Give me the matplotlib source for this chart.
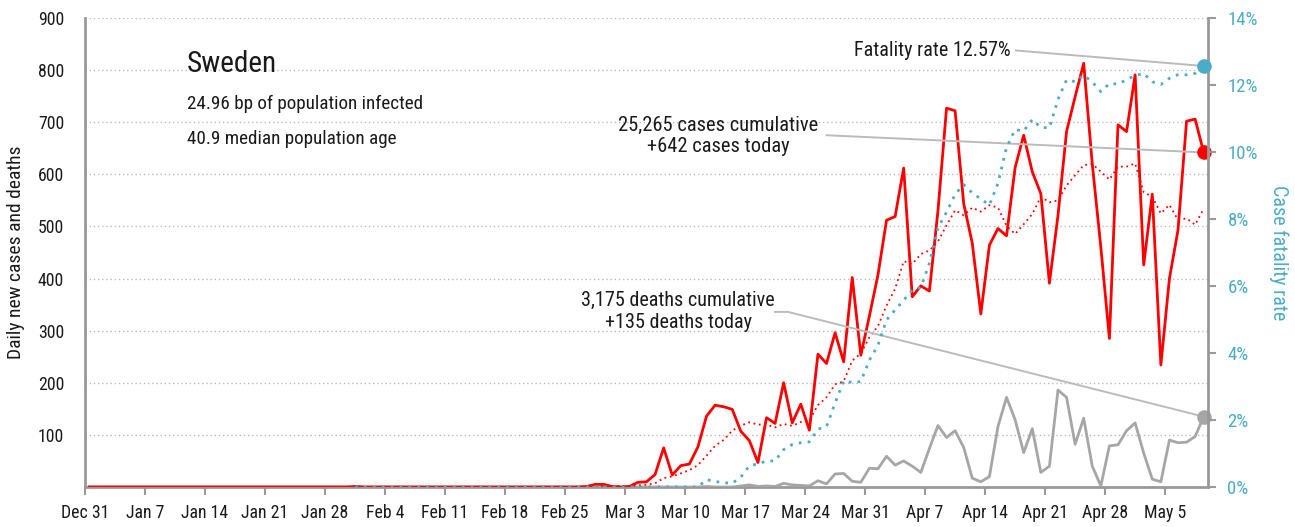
import matplotlib
matplotlib.use("Agg")
import matplotlib.pyplot as plt
from matplotlib import font_manager
import numpy as np
import pandas as pd

# ---------------- data ----------------
# day 0 = Dec 31; one value per day through May 9 (day 130)
cases = ([0] * 31 + [1] + [0] * 26 +
         [1, 5, 5, 1, 0, 1, 9, 10, 24, 75,
          23, 41, 44, 77, 136, 157, 154, 149, 107, 89,
          47, 133, 122, 200, 123, 159, 109, 255, 237, 296,
          240, 402, 253, 328, 407, 512, 519, 612, 365, 386,
          376, 530, 727, 722, 544, 468, 332, 464, 496, 482,
          613, 675, 605, 563, 391, 521, 682, 749, 813, 620,
          460, 285, 695, 682, 791, 426, 562, 234, 400, 493,
          702, 706, 642])
deaths = ([0] * 72 +
          [1, 0, 0, 0, 2, 4, 1, 2, 1, 7,
           4, 3, 2, 12, 6, 25, 26, 11, 9, 36,
           35, 59, 42, 50, 40, 28, 74, 118, 95, 108,
           76, 17, 10, 20, 116, 172, 129, 66, 112, 28,
           40, 186, 172, 82, 132, 40, 2, 79, 81, 108,
           123, 65, 15, 10, 90, 85, 86, 97, 135])
tick_labels = ["Dec 31", "Jan 7", "Jan 14", "Jan 21", "Jan 28", "Feb 4", "Feb 11",
               "Feb 18", "Feb 25", "Mar 3", "Mar 10", "Mar 17", "Mar 24", "Mar 31",
               "Apr 7", "Apr 14", "Apr 21", "Apr 28", "May 5"]
country = "Sweden"
subtitle1 = "24.96 bp of population infected"
subtitle2 = "40.9 median population age"

# ---------------- derived ----------------
cases_s = pd.Series(cases, dtype=float)
deaths_s = pd.Series(deaths, dtype=float)
avg7 = cases_s.rolling(7).mean()
cum_cases = cases_s.cumsum()
cum_deaths = deaths_s.cumsum()
cfr = (cum_deaths / cum_cases.where(cum_cases > 0)) * 100
days = np.arange(len(cases)) + 0.5

# ---------------- fonts ----------------
avail = {f.name for f in font_manager.fontManager.ttflist}
fam = None
for cand in ["Liberation Sans Narrow", "Roboto Condensed", "DejaVu Sans Condensed",
             "Open Sans Condensed", "Liberation Sans", "DejaVu Sans"]:
    if cand in avail:
        fam = cand
        break
plt.rcParams['font.family'] = [fam, 'DejaVu Sans']

RED = "#FF0000"
GRAY = "#A6A6A6"
BLUE = "#4BACC6"
AX = "#999999"
TXT = "#1a1a1a"

fig = plt.figure(figsize=(12.95, 5.27), dpi=100)
ax = fig.add_axes([85 / 1295, 40 / 527, (1208 - 85) / 1295, (487 - 18) / 527])
ax2 = ax.twinx()

ax.set_xlim(0, 131)
ax.set_ylim(0, 900)
ax2.set_ylim(0, 14)

# grid
for v in range(100, 901, 100):
    ax.axhline(v, color="#BBBBBB", lw=1.0, ls=(0, (1, 2)), zorder=0)

ax.plot(days, deaths, color=GRAY, lw=2.0, zorder=3)
ax.plot(days, avg7, color=RED, lw=1.3, ls=(0, (1, 2)), zorder=4)
ax.plot(days, cases, color=RED, lw=2.0, zorder=5)
ax2.plot(days, cfr, color=BLUE, lw=2.0, ls=(0, (1, 2.2)), zorder=4)

# end dots
ax.scatter([days[-1]], [cases[-1]], s=90, color=RED, zorder=7, clip_on=False)
ax.scatter([days[-1]], [deaths[-1]], s=90, color=GRAY, zorder=7, clip_on=False)
ax2.scatter([days[-1]], [cfr.iloc[-1]], s=90, color=BLUE, zorder=7, clip_on=False)

# annotations
n_cases = int(cum_cases.iloc[-1])
n_deaths = int(cum_deaths.iloc[-1])
ax.plot([86.5, days[-1]], [675, cases[-1]], color="#BBBBBB", lw=1.4, zorder=6)
ax.text(73.9, 673, f"{n_cases:,} cases cumulative\n+{cases[-1]} cases today",
        ha="center", va="center", fontsize=14.8, color=TXT, linespacing=1.15, zorder=8)
ax.plot([80.5, 82.0, days[-1]], [336, 336, deaths[-1]], color="#BBBBBB", lw=1.4, zorder=6)
ax.text(69.2, 337, f"{n_deaths:,} deaths cumulative\n+{deaths[-1]} deaths today",
        ha="center", va="center", fontsize=14.5, color=TXT, linespacing=1.15, zorder=8)
ax2.plot([108.6, days[-1]], [13.03, cfr.iloc[-1]], color="#BBBBBB", lw=1.4, zorder=6)
ax2.text(108.0, 13.03, f"Fatality rate {cfr.iloc[-1]:.2f}%", ha="right", va="center",
         fontsize=14.5, color=TXT, zorder=8)

ax.text(11.9, 812, country, fontsize=21, color=TXT, ha="left", va="center")
ax.text(11.9, 736, subtitle1, fontsize=13.8, color=TXT, ha="left", va="center")
ax.text(11.9, 668, subtitle2, fontsize=13.8, color=TXT, ha="left", va="center")

# axes styling
for a in (ax, ax2):
    a.spines["top"].set_visible(False)
    for s in ("left", "right", "bottom"):
        a.spines[s].set_color(AX)
        a.spines[s].set_linewidth(2)
ax.spines["right"].set_visible(False)
ax2.spines["left"].set_visible(False)
ax2.spines["bottom"].set_visible(False)

ax.set_xticks(np.arange(len(tick_labels)) * 7)
ax.set_xticklabels(tick_labels, fontsize=12.8, color=TXT)
ax.tick_params(axis="x", length=6, width=1.5, color=AX, pad=6)
ax.set_yticks(range(100, 901, 100))
ax.set_yticklabels([str(v) for v in range(100, 901, 100)], fontsize=12.8, color=TXT)
ax.tick_params(axis="y", length=0, pad=15)
ax2.set_yticks(range(0, 15, 2))
ax2.set_yticklabels([f"{v}%" for v in range(0, 15, 2)], fontsize=13.5, color=BLUE)
ax2.tick_params(axis="y", length=6, width=1.5, color=AX, pad=8)

ax.set_ylabel("Daily new cases and deaths", fontsize=14, color=TXT, labelpad=9)
ax2.set_ylabel("Case fatality rate", fontsize=14.5, color=BLUE, rotation=-90, labelpad=22)

fig.savefig("out.png", dpi=100)
